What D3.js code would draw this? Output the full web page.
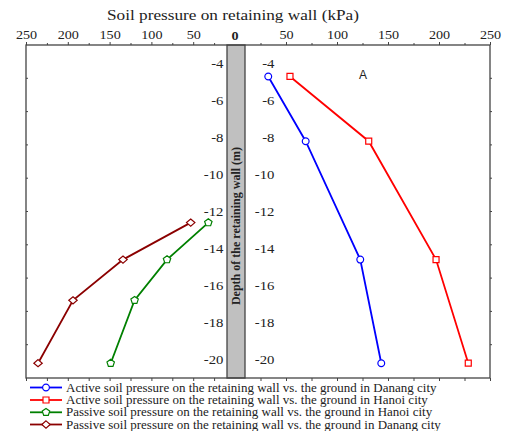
<!DOCTYPE html>
<html>
<head>
<meta charset="utf-8">
<script src="https://cdn.jsdelivr.net/npm/d3@7"></script>
<style>
  html, body { margin: 0; padding: 0; background: #fff; }
  svg { display: block; }
  text { font-family: "Liberation Serif", "Times New Roman", serif; fill: #222; }
</style>
</head>
<body>
<svg id="chart" width="508" height="431"></svg>
<script>
// Depths (m) at which pressures were evaluated
const activeDepths  = [-4.7, -8.2, -14.6, -20.2];
const passiveDepths = [-12.6, -14.6, -16.8, -20.2];

// Soil pressure on the wall (kPa)
const activeDanang  = [32.6, 69.3, 122.8, 143.4];
const activeHanoi   = [53.9, 131.1, 197.1, 228.7];
const passiveHanoi  = [31.9, 81.3, 120.1, 148.7];
const passiveDanang = [53.0, 134.0, 193.8, 235.6];

// Axis ticks
const pressureMajor = [50, 100, 150, 200, 250];
const pressureMinor = [25, 75, 125, 175, 225];
const depthTicks = [-4, -6, -8, -10, -12, -14, -16, -18, -20];

const legendLabels = [
  "Active soil pressure on the retaining wall vs. the ground in Danang city",
  "Active soil pressure on the retaining wall vs. the ground in Hanoi city",
  "Passive soil pressure on the retaining wall vs. the ground in Hanoi city",
  "Passive soil pressure on the retaining wall vs. the ground in Danang city"
];

const svg = d3.select("#chart");

const frame = { left: 26, right: 490, top: 45, bottom: 378 };
const wallX0 = 227, wallX1 = 245, zeroX = 235;
const sx = 1.18; // horizontal stretch of the lettering

// Passive side grows to the left, active side to the right
const xLeft  = d3.scaleLinear().domain([250, 0]).range([frame.left, zeroX]);
const xRight = d3.scaleLinear().domain([0, 250]).range([zeroX, frame.right]);
const y = d3.scaleLinear().domain([-3, -21]).range([frame.top, frame.bottom]);

// Title
svg.append("g").attr("transform", `translate(233,19.5) scale(1.23,1)`)
  .append("text").attr("text-anchor", "middle")
  .style("font-size", "14px")
  .text("Soil pressure on retaining wall (kPa)");

// Retaining wall
svg.append("rect")
  .attr("x", wallX0).attr("y", frame.top)
  .attr("width", wallX1 - wallX0).attr("height", frame.bottom - frame.top)
  .attr("fill", "#c0c0c0").attr("stroke", "#444").attr("stroke-width", 1.3);

// Top / bottom pressure axes
function pressureAxes(scale) {
  const top = svg.append("g").attr("transform", `translate(0,${frame.top})`)
    .call(d3.axisTop(scale).tickValues(pressureMajor).tickSize(3).tickPadding(3));
  top.attr("font-family", "Liberation Serif");
  top.select(".domain").remove();
  top.selectAll("text").style("font-size", "12px").style("font-family", "Liberation Serif")
    .attr("fill", "#222").attr("transform", `scale(${sx},1)`);
  top.selectAll("line").attr("stroke", "#444");
  const topMinor = svg.append("g").attr("transform", `translate(0,${frame.top})`)
    .call(d3.axisTop(scale).tickValues(pressureMinor).tickSize(2).tickFormat(""));
  topMinor.select(".domain").remove();
  topMinor.selectAll("line").attr("stroke", "#444");

  const bottom = svg.append("g").attr("transform", `translate(0,${frame.bottom})`)
    .call(d3.axisBottom(scale).tickValues(pressureMajor.concat(pressureMinor)).tickSize(3).tickFormat(""));
  bottom.select(".domain").remove();
  bottom.selectAll("line").attr("stroke", "#444");
}
pressureAxes(xLeft);
pressureAxes(xRight);

// Zero label above the wall
svg.append("g").attr("transform", `translate(${zeroX},40) scale(${sx},1)`)
  .append("text").attr("text-anchor", "middle")
  .style("font-size", "12px").style("font-weight", "bold").text("0");

// Depth labels on each side of the wall (plain hyphen as minus)
function depthAxis(xPos) {
  const g = svg.append("g").attr("transform", `translate(${xPos},0)`)
    .call(d3.axisLeft(y).tickValues(depthTicks).tickSize(0).tickPadding(0)
      .tickFormat(d => "-" + Math.abs(d)));
  g.attr("font-family", "Liberation Serif");
  g.select(".domain").remove();
  g.selectAll("text").style("font-size", "12.5px").style("font-family", "Liberation Serif")
    .attr("fill", "#222").attr("transform", `scale(${sx},1)`);
}
depthAxis(223.5);
depthAxis(274.5);

// Small ticks along the left and right frame edges
const edgeTicks = d3.range(1, 10).map(i => -3 - i * 1.8);
svg.append("g").selectAll("line").data(edgeTicks).join("line")
  .attr("x1", frame.right).attr("x2", frame.right + 2)
  .attr("y1", d => y(d)).attr("y2", d => y(d)).attr("stroke", "#444");
svg.append("g").selectAll("line").data(edgeTicks).join("line")
  .attr("x1", frame.left).attr("x2", frame.left + 2)
  .attr("y1", d => y(d)).attr("y2", d => y(d)).attr("stroke", "#444");

// Frame
svg.append("rect")
  .attr("x", frame.left).attr("y", frame.top)
  .attr("width", frame.right - frame.left).attr("height", frame.bottom - frame.top)
  .attr("fill", "none").attr("stroke", "#444").attr("stroke-width", 1.3);

// Depth axis title inside the wall
svg.append("text")
  .attr("transform", `translate(${(wallX0 + wallX1) / 2 + 4},226) rotate(-90)`)
  .attr("text-anchor", "middle")
  .style("font-size", "12px").style("font-weight", "bold")
  .text("Depth of the retaining wall (m)");

// Panel mark
svg.append("text").attr("x", 363).attr("y", 79).attr("text-anchor", "middle")
  .style("font-family", "Liberation Sans").style("font-size", "12px")
  .text("A");

// Marker shapes
function pentagonPath(r) {
  const pts = d3.range(5).map(i => {
    const a = -Math.PI / 2 + i * 2 * Math.PI / 5;
    return [r * Math.cos(a), r * Math.sin(a)];
  });
  return "M" + pts.map(p => p.join(",")).join("L") + "Z";
}
function diamondPath(w, h) {
  return `M0,${-h}L${w},0L0,${h}L${-w},0Z`;
}
const shapePath = {
  circle: d3.symbol().type(d3.symbolCircle).size(36)(),
  square: d3.symbol().type(d3.symbolSquare).size(36)(),
  pentagon: pentagonPath(3.9),
  diamond: diamondPath(4.2, 3.6)
};

const series = [
  { values: activeDanang,  depths: activeDepths,  scale: xRight, color: "#0000ff", shape: "circle" },
  { values: activeHanoi,   depths: activeDepths,  scale: xRight, color: "#ff0000", shape: "square" },
  { values: passiveHanoi,  depths: passiveDepths, scale: xLeft,  color: "#008000", shape: "pentagon" },
  { values: passiveDanang, depths: passiveDepths, scale: xLeft,  color: "#8b0000", shape: "diamond" }
];

series.forEach(s => {
  const pts = s.values.map((v, i) => [s.scale(v), y(s.depths[i])]);
  svg.append("path").datum(pts)
    .attr("d", d3.line())
    .attr("fill", "none").attr("stroke", s.color).attr("stroke-width", 1.8);
  svg.append("g").selectAll("path").data(pts).join("path")
    .attr("transform", d => `translate(${d[0]},${d[1]})`)
    .attr("d", shapePath[s.shape])
    .attr("fill", "#fff").attr("stroke", s.color).attr("stroke-width", 1.2);
});

// Legend
const legendRows = [387.5, 400, 412.3, 424.5];
series.forEach((s, i) => {
  const g = svg.append("g").attr("transform", `translate(30,${legendRows[i]})`);
  g.append("line").attr("x1", 0).attr("x2", 32).attr("y1", 0).attr("y2", 0)
    .attr("stroke", s.color).attr("stroke-width", 1.8);
  g.append("path").attr("transform", "translate(16,0)")
    .attr("d", shapePath[s.shape])
    .attr("fill", "#fff").attr("stroke", s.color).attr("stroke-width", 1.2);
  g.append("g").attr("transform", `translate(36,4) scale(1.13,1)`)
    .append("text").style("font-size", "11.5px").text(legendLabels[i]);
});
</script>
</body>
</html>
